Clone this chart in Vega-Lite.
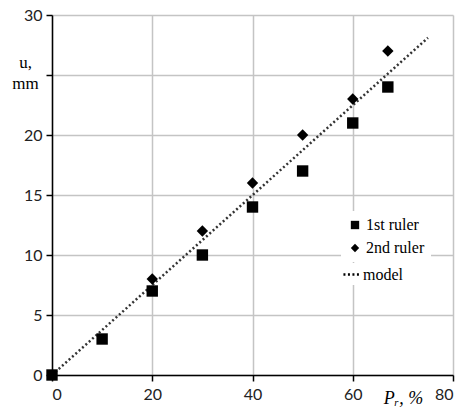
{
  "$schema": "https://vega.github.io/schema/vega-lite/v6.json",
  "width": 401,
  "height": 360,
  "autosize": {"type": "none"},
  "padding": {"left": 52, "top": 15, "right": 10, "bottom": 37},
  "background": "white",
  "config": {
    "view": {"stroke": null},
    "axis": {
      "labelFont": "Lato",
      "labelFontSize": 16,
      "labelColor": "#222",
      "gridColor": "#c4c4c4",
      "gridWidth": 1.5,
      "domainColor": "#000",
      "domainWidth": 1.5,
      "tickColor": "#000",
      "tickWidth": 1.5,
      "tickSize": 6,
      "titleFont": "Liberation Serif",
      "titleFontSize": 16,
      "titleFontWeight": "normal",
      "titleColor": "#000"
    },
    "legend": {
      "labelFont": "Liberation Serif",
      "labelFontSize": 16,
      "labelColor": "#000",
      "rowPadding": 7,
      "labelOffset": 3,
      "fillColor": "white"
    }
  },
  "datasets": {
    "model": [
      {"P": 0, "u": 0, "series": "model"},
      {"P": 75, "u": 28.1, "series": "model"}
    ],
    "rulers": [
      {"P": 0, "u": 0, "series": "1st ruler"},
      {"P": 10, "u": 3, "series": "1st ruler"},
      {"P": 20, "u": 7, "series": "1st ruler"},
      {"P": 30, "u": 10, "series": "1st ruler"},
      {"P": 40, "u": 14, "series": "1st ruler"},
      {"P": 50, "u": 17, "series": "1st ruler"},
      {"P": 60, "u": 21, "series": "1st ruler"},
      {"P": 67, "u": 24, "series": "1st ruler"},
      {"P": 20, "u": 8, "series": "2nd ruler"},
      {"P": 30, "u": 12, "series": "2nd ruler"},
      {"P": 40, "u": 16, "series": "2nd ruler"},
      {"P": 50, "u": 20, "series": "2nd ruler"},
      {"P": 60, "u": 23, "series": "2nd ruler"},
      {"P": 67, "u": 27, "series": "2nd ruler"}
    ]
  },
  "layer": [
    {
      "data": {"name": "model"},
      "mark": {"type": "line", "color": "#333", "strokeWidth": 2.5, "clip": true},
      "encoding": {
        "x": {
          "field": "P", "type": "quantitative",
          "scale": {"domain": [0, 80], "nice": false},
          "axis": {
            "values": [0, 20, 40, 60, 80],
            "labelPadding": 5,
            "title": "Pᵣ, %",
            "titleFontStyle": "italic",
            "titleFontSize": 18,
            "titleX": 351,
            "titleY": 23,
            "titleAlign": "center",
            "titleBaseline": "middle"
          }
        },
        "y": {
          "field": "u", "type": "quantitative",
          "scale": {"domain": [0, 30], "nice": false},
          "axis": {
            "values": [0, 5, 10, 15, 20, 25, 30],
            "labelExpr": "datum.value == 25 ? '' : datum.label",
            "labelPadding": 4,
            "title": ["u,", "mm"],
            "titleAngle": 0,
            "titleX": -27,
            "titleY": 52,
            "titleAlign": "center",
            "titleBaseline": "alphabetic",
            "titleLineHeight": 21,
            "titleFontSize": 17
          }
        },
        "strokeDash": {
          "field": "series", "type": "nominal",
          "scale": {"domain": ["model"], "range": [[2, 2.5]]},
          "legend": {
            "title": null,
            "orient": "none",
            "legendX": 288,
            "legendY": 248,
            "padding": 2,
            "symbolSize": 260,
            "symbolStrokeWidth": 2.5,
            "symbolStrokeColor": "#000",
            "labelOffset": 2
          }
        }
      }
    },
    {
      "data": {"name": "rulers"},
      "mark": {"type": "point", "filled": true, "opacity": 1, "color": "#000"},
      "encoding": {
        "x": {"field": "P", "type": "quantitative"},
        "y": {"field": "u", "type": "quantitative"},
        "shape": {
          "field": "series", "type": "nominal",
          "scale": {
            "domain": ["1st ruler", "2nd ruler"],
            "range": ["square", "diamond"]
          },
          "legend": {
            "title": null,
            "orient": "none",
            "legendX": 289,
            "legendY": 196,
            "padding": 6,
            "symbolSize": 70,
            "symbolFillColor": "#000"
          }
        },
        "size": {"value": 130}
      }
    }
  ]
}
